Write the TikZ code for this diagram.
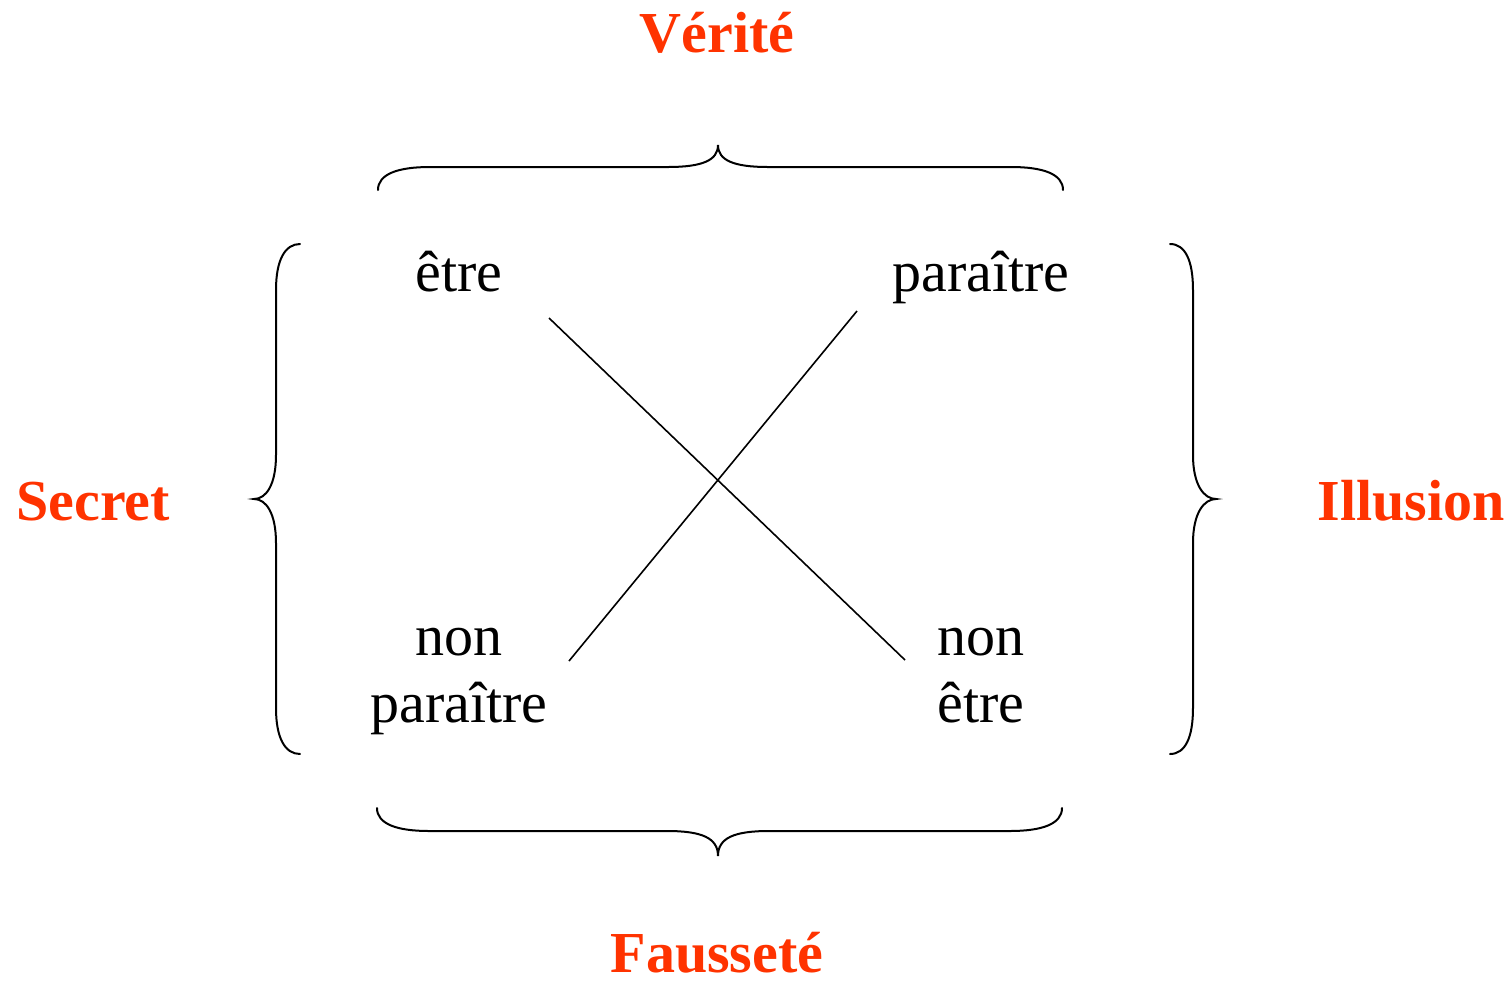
\documentclass[tikz,border=0pt]{standalone}
\usepackage{fontspec}
\setmainfont{Liberation Serif}
\definecolor{lab}{HTML}{FF3300}
\tikzset{
  word/.style={font=\fontsize{29}{33.5}\selectfont, inner sep=0pt, anchor=base, align=center},
  label/.style={font=\fontsize{29}{33.5}\selectfont\bfseries, text=lab, inner sep=0pt, anchor=base},
  brace/.style={line width=1pt, line cap=round},
  cross/.style={line width=0.8pt}
}
\begin{document}
\begin{tikzpicture}[x=0.5pt,y=-0.5pt]
\useasboundingbox (0,0) rectangle (1512,986);
% labels
\node[label] (verite) at (717,52) {Vérité};
\node[label] (faussete) at (717,972) {Fausseté};
\node[label] (secret) at (93,520) {Secret};
\node[label] (illusion) at (1411,520) {Illusion};
% words
\node[word] (etre) at (459,291) {être};
\node[word] (paraitre) at (981,291) {paraître};
\node[word] (nonparaitre) at (459,722) {non\\paraître};
\node[word] (nonetre) at (981,722) {non\\être};
% cross lines
\coordinate (a1) at (549,318);
\coordinate (a2) at (905,660);
\coordinate (b1) at (857,311);
\coordinate (b2) at (569,661);
\draw[cross] (a1) -- (a2);
\draw[cross] (b1) -- (b2);
% top brace
\draw[brace] (378,190) .. controls (378,174) and (398,167) .. (430,167) -- (668,167)
  .. controls (703,167) and (718,160) .. (718,145)
  .. controls (718,160) and (733,167) .. (768,167) -- (1011,167)
  .. controls (1043,167) and (1063,174) .. (1063,190);
% bottom brace
\draw[brace] (377,808) .. controls (377,824) and (397,831) .. (429,831) -- (667,831)
  .. controls (702,831) and (718,838) .. (718,856)
  .. controls (718,838) and (734,831) .. (769,831) -- (1010,831)
  .. controls (1042,831) and (1062,824) .. (1062,808);
% left brace
\draw[brace] (300,244) .. controls (285,244) and (276,260) .. (276,290) -- (276,455)
  .. controls (276,485) and (266,499) .. (254,499)
  .. controls (266,499) and (276,513) .. (276,543) -- (276,708)
  .. controls (276,738) and (285,754) .. (300,754);
% right brace
\draw[brace] (1170,244) .. controls (1185,244) and (1193,260) .. (1193,290) -- (1193,455)
  .. controls (1193,485) and (1204,499) .. (1216,499)
  .. controls (1204,499) and (1193,513) .. (1193,543) -- (1193,708)
  .. controls (1193,738) and (1185,754) .. (1170,754);
\end{tikzpicture}
\end{document}
